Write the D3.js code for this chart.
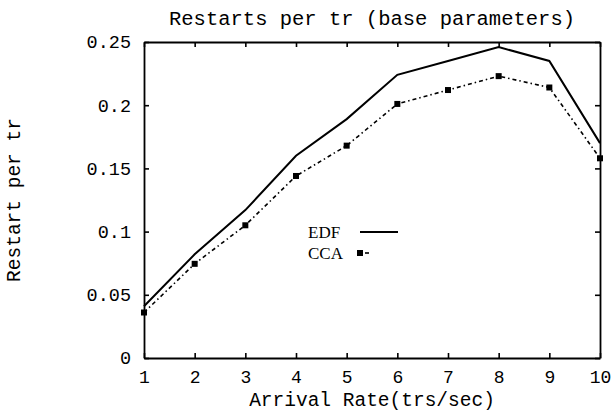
<!DOCTYPE html>
<html><head><meta charset="utf-8">
<script src="https://cdn.jsdelivr.net/npm/d3@7"></script>
<style>body{margin:0;background:#fff}svg{display:block}</style>
</head><body>
<svg id="c" width="615" height="414"></svg>
<script>
const arrivalRates = [1,2,3,4,5,6,7,8,9,10];
const edfValues = [0.041,0.082,0.117,0.160,0.189,0.224,0.235,0.246,0.235,0.170];
const ccaValues = [0.036,0.0745,0.105,0.144,0.168,0.201,0.212,0.223,0.214,0.158];
const yTicks = [0,0.05,0.1,0.15,0.2,0.25];
const yTickLabels = ["0","0.05","0.1","0.15","0.2","0.25"];
const seriesNames = ["EDF","CCA"];
const titleText = "Restarts per tr (base parameters)";
const xLabel = "Arrival Rate(trs/sec)";
const yLabel = "Restart per tr";

const svg = d3.select("#c");
const L=144,R=600,T=42,B=358;
const x = d3.scaleLinear().domain([1,10]).range([L,R]);
const y = d3.scaleLinear().domain([0,0.25]).range([B,T]);
const mono = "'Liberation Mono','Courier New',monospace";
const serif = "'Liberation Serif','Times New Roman',serif";

// axes with inward ticks
const gB = svg.append("g").attr("transform",`translate(0,${B})`)
  .call(d3.axisBottom(x).tickValues(arrivalRates).tickFormat(d3.format("d")).tickSizeInner(-5).tickSizeOuter(0));
const gL = svg.append("g").attr("transform",`translate(${L},0)`)
  .call(d3.axisLeft(y).tickValues(yTicks).tickFormat((d,i)=>yTickLabels[i]).tickSizeInner(-5).tickSizeOuter(0).tickPadding(13));
const gT = svg.append("g").attr("transform",`translate(0,${T})`)
  .call(d3.axisTop(x).tickValues(arrivalRates).tickFormat("").tickSizeInner(-5).tickSizeOuter(0));
const gR = svg.append("g").attr("transform",`translate(${R},0)`)
  .call(d3.axisRight(y).tickValues(yTicks).tickFormat("").tickSizeInner(-5).tickSizeOuter(0));
[gB,gL,gT,gR].forEach(g=>{
  g.selectAll(".domain").attr("stroke","#000").attr("stroke-width",1.8);
  g.selectAll(".tick line").attr("stroke","#000").attr("stroke-width",1.6);
  g.selectAll("text").attr("font-family",mono).attr("font-size",18.5).attr("fill","#000");
});
gB.selectAll("text").attr("dy",null).attr("y",25).attr("font-size",18);

// lines
const line = d3.line().x((d,i)=>x(arrivalRates[i])).y(d=>y(d));
svg.append("path").datum(edfValues).attr("d",line)
  .attr("fill","none").attr("stroke","#000").attr("stroke-width",2);
svg.append("path").datum(ccaValues).attr("d",line)
  .attr("fill","none").attr("stroke","#000").attr("stroke-width",1.6)
  .attr("stroke-dasharray","4,3,1.5,3");
svg.selectAll("rect.m").data(ccaValues).enter().append("rect").attr("class","m")
  .attr("x",(d,i)=>x(arrivalRates[i])-3).attr("y",d=>y(d)-3)
  .attr("width",6).attr("height",6).attr("fill","#000");

// title and axis labels
svg.append("text").attr("x",(L+R)/2).attr("y",25).attr("text-anchor","middle")
  .attr("font-family",mono).attr("font-size",20.5).text(titleText);
svg.append("text").attr("x",(L+R)/2).attr("y",406).attr("text-anchor","middle")
  .attr("font-family",mono).attr("font-size",19.5).text(xLabel);
svg.append("text").attr("transform","translate(20,200) rotate(-90)").attr("text-anchor","middle")
  .attr("font-family",mono).attr("font-size",19.5).text(yLabel);

// legend
const lg = svg.append("g");
lg.append("text").attr("x",308).attr("y",238).attr("font-family",serif).attr("font-size",17).text(seriesNames[0]);
lg.append("text").attr("x",308).attr("y",259).attr("font-family",serif).attr("font-size",17).text(seriesNames[1]);
lg.append("line").attr("x1",360).attr("x2",398).attr("y1",232).attr("y2",232).attr("stroke","#000").attr("stroke-width",1.8);
lg.append("rect").attr("x",357).attr("y",250).attr("width",6).attr("height",6).attr("fill","#000");
lg.append("line").attr("x1",365).attr("x2",369).attr("y1",253).attr("y2",253).attr("stroke","#000").attr("stroke-width",1.6);
</script>
</body></html>
